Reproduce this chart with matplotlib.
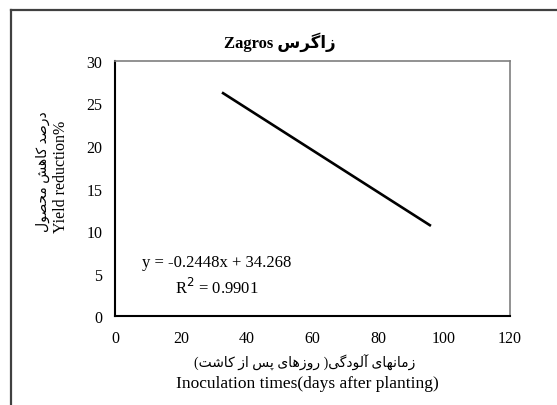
import matplotlib
matplotlib.use('Agg')
import matplotlib.pyplot as plt
from matplotlib.lines import Line2D

# trendline end points (days after planting, yield reduction %)
days = [32.5, 96]
yield_reduction = [26.3, 10.6]
x_ticks = [0, 20, 40, 60, 80, 100, 120]
y_ticks = [0, 5, 10, 15, 20, 25, 30]
eq_text = 'y = -0.2448x + 34.268'
r2_text = 'R$^2$ = 0.9901'

# arabic presentation forms: isolated, final, initial, medial
FORMS = {
    'ا': ('\uFE8D', '\uFE8E', None, None), 'آ': ('\uFE81', '\uFE82', None, None),
    'د': ('\uFEA9', '\uFEAA', None, None), 'ر': ('\uFEAD', '\uFEAE', None, None),
    'ز': ('\uFEAF', '\uFEB0', None, None), 'و': ('\uFEED', '\uFEEE', None, None),
    'س': ('\uFEB1', '\uFEB2', '\uFEB3', '\uFEB4'), 'ش': ('\uFEB5', '\uFEB6', '\uFEB7', '\uFEB8'),
    'ص': ('\uFEB9', '\uFEBA', '\uFEBB', '\uFEBC'), 'ت': ('\uFE95', '\uFE96', '\uFE97', '\uFE98'),
    'ح': ('\uFEA1', '\uFEA2', '\uFEA3', '\uFEA4'), 'ل': ('\uFEDD', '\uFEDE', '\uFEDF', '\uFEE0'),
    'م': ('\uFEE1', '\uFEE2', '\uFEE3', '\uFEE4'), 'ن': ('\uFEE5', '\uFEE6', '\uFEE7', '\uFEE8'),
    'ه': ('\uFEE9', '\uFEEA', '\uFEEB', '\uFEEC'), 'ک': ('\uFB8E', '\uFB8F', '\uFB90', '\uFB91'),
    'گ': ('\uFB92', '\uFB93', '\uFB94', '\uFB95'), 'پ': ('\uFB56', '\uFB57', '\uFB58', '\uFB59'),
    'ی': ('\uFBFC', '\uFBFD', '\uFBFE', '\uFBFF'),
}

def dual(c):
    return c in FORMS and FORMS[c][2] is not None

def shape(word):
    '''shape one persian word and return it in visual (left to right) order'''
    out = []
    for i, c in enumerate(word):
        if c not in FORMS:
            out.append(c)
            continue
        prev_join = i > 0 and dual(word[i - 1])
        next_join = dual(c) and i + 1 < len(word) and word[i + 1] in FORMS
        iso, fin, ini, med = FORMS[c]
        if prev_join and next_join:
            out.append(med)
        elif prev_join:
            out.append(fin)
        elif next_join:
            out.append(ini)
        else:
            out.append(iso)
    return ''.join(reversed(out))

def rtl(words):
    return ' '.join(shape(w) for w in reversed(words))

title_fa = shape('زاگرس')
ylabel_fa = rtl(['درصد', 'کاهش', 'محصول'])
xlabel_fa = '(' + rtl(['روزهای', 'پس', 'از', 'کاشت']) + ' )' + shape('آلودگی') + ' ' + shape('زمانهای')

serif = ['Liberation Serif', 'DejaVu Sans']
plt.rcParams['font.family'] = serif

fig = plt.figure(figsize=(5.57, 4.06), dpi=100)
ax = fig.add_axes([0.2065, 0.2192, 0.709, 0.6281])

ax.plot(days, yield_reduction, color='black', lw=1.9, solid_capstyle='butt')
ax.set_xlim(0, 120)
ax.set_ylim(0, 30)
ax.set_xticks(x_ticks)
ax.set_yticks(y_ticks)
ax.tick_params(length=0, labelsize=11.5)
ax.tick_params(axis='x', pad=10)
ax.tick_params(axis='y', pad=9)
for s in ['left', 'bottom']:
    ax.spines[s].set_color('black')
    ax.spines[s].set_linewidth(1.5)
for s in ['top', 'right']:
    ax.spines[s].set_color('#7f7f7f')
    ax.spines[s].set_linewidth(1.2)

ax.text(31, 6.35, eq_text, ha='center', va='center', fontsize=12)
ax.text(31, 3.4, r2_text, ha='center', va='center', fontsize=12)

# title
fig.text(280 / 557, 1 - 42 / 406, 'Zagros ' + title_fa, ha='center', va='center',
         fontsize=12, fontweight='bold', family=serif)

# axis labels, two lines each
fig.text(305 / 557, 1 - 363 / 406, xlabel_fa, ha='center', va='center', fontsize=10, family=serif)
fig.text(307 / 557, 1 - 384 / 406, 'Inoculation times(days after planting)', ha='center', va='center',
         fontsize=12.5, family=serif)
fig.text(43 / 557, 1 - 172 / 406, ylabel_fa, ha='center', va='center', rotation=90, fontsize=10, family=serif)
fig.text(61 / 557, 1 - 177 / 406, 'Yield reduction%', ha='center', va='center', rotation=90,
         fontsize=11.5, family=serif)

# outer frame (left and top edges)
fig.add_artist(Line2D([11 / 557, 11 / 557], [0, 1 - 11 / 406], color='#404040', lw=1.6, transform=fig.transFigure))
fig.add_artist(Line2D([11 / 557, 1], [1 - 11 / 406, 1 - 11 / 406], color='#404040', lw=1.6, transform=fig.transFigure))

fig.savefig('out.png', dpi=100)
